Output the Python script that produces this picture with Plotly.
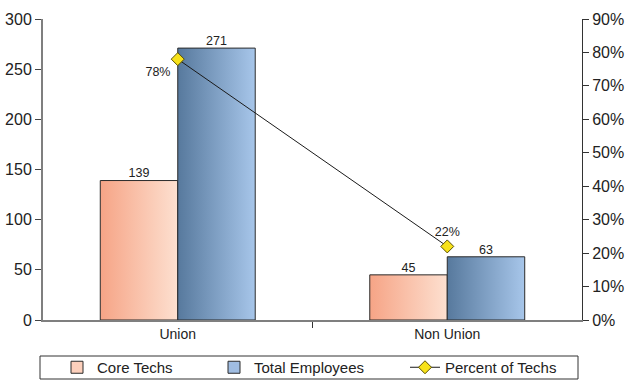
import plotly.graph_objects as go

categories = ["Union", "Non Union"]
core_techs = [139, 45]
total_employees = [271, 63]
percent_techs = [0.78, 0.22]

BAR_W = 0.2875
FONT = "Arial, Liberation Sans, sans-serif"
W, H = 627, 380
M = dict(l=43, r=45, t=19, b=60)

core_scale = [[0, "#f6a486"], [1, "#fde0d0"]]
total_scale = [[0, "#57799d"], [1, "#a7c6ea"]]

fig = go.Figure()

xs = list(range(len(categories)))

# gradient-filled bars drawn as closed polygons in data coordinates
def add_bar(x0, x1, h, scale):
    fig.add_trace(go.Scatter(
        x=[x0, x0, x1, x1, x0], y=[0, h, h, 0, 0],
        mode="lines", fill="toself",
        fillgradient=dict(type="horizontal", colorscale=scale),
        line=dict(color="#2b2b2b", width=1),
        hoverinfo="skip", showlegend=False,
    ))

for i, (c, t) in enumerate(zip(core_techs, total_employees)):
    add_bar(i - BAR_W, i, c, core_scale)
    add_bar(i, i + BAR_W, t, total_scale)

# value labels above bars
fig.add_trace(go.Scatter(
    x=[i - BAR_W / 2 for i in xs], y=core_techs, mode="text",
    text=[str(v) for v in core_techs], textposition="top center",
    textfont=dict(family=FONT, size=12.5, color="#222"),
    showlegend=False, hoverinfo="skip"))
fig.add_trace(go.Scatter(
    x=[i + BAR_W / 2 for i in xs], y=total_employees, mode="text",
    text=[str(v) for v in total_employees], textposition="top center",
    textfont=dict(family=FONT, size=12.5, color="#222"),
    showlegend=False, hoverinfo="skip"))

# legend entries for the bar series
fig.add_trace(go.Bar(x=[None], y=[None], name="Core Techs", legend="legend",
                     marker=dict(color="#fdd0bc", line=dict(color="#2b2b2b", width=1))))
fig.add_trace(go.Bar(x=[None], y=[None], name="Total Employees", legend="legend2",
                     marker=dict(color="#a0bde2", line=dict(color="#2b2b2b", width=1))))

# percentage line on the secondary axis
fig.add_trace(go.Scatter(
    x=xs, y=percent_techs, yaxis="y2", name="Percent of Techs", legend="legend3",
    mode="lines+markers+text",
    text=[f"{round(p*100)}%" for p in percent_techs],
    textposition=["bottom left", "top center"],
    textfont=dict(family=FONT, size=12.5, color="#222"),
    line=dict(color="#1a1a1a", width=1),
    marker=dict(symbol="diamond", size=10, color="#f7e21a",
                line=dict(color="#5a5000", width=1)),
))

def legend_at(px):
    return dict(orientation="h", xref="container", yref="container",
                x=px / W, xanchor="left", y=1 - 367.5 / H, yanchor="middle",
                bgcolor="rgba(0,0,0,0)", borderwidth=0,
                font=dict(family=FONT, size=15, color="#222"))

# frame around the legend row
pw = W - M["l"] - M["r"]
ph = H - M["t"] - M["b"]
def px_x(p):
    return (p - M["l"]) / pw
def px_y(p):
    return (H - M["b"] - p) / ph

fig.add_shape(type="rect", xref="paper", yref="paper",
              x0=px_x(40), x1=px_x(578), y0=px_y(379), y1=px_y(356),
              line=dict(color="#333", width=1), fillcolor="rgba(0,0,0,0)")

fig.update_layout(
    width=W, height=H,
    margin=dict(**M, autoexpand=False),
    paper_bgcolor="white", plot_bgcolor="white",
    font=dict(family=FONT, size=14, color="#222"),
    showlegend=True,
    legend=legend_at(57),
    legend2=legend_at(214),
    legend3=legend_at(405),
    xaxis=dict(range=[-0.5, 1.5], tickmode="array", tickvals=xs, ticktext=categories,
               ticks="", showgrid=False, zeroline=False,
               showline=True, linecolor="#7f7f7f", linewidth=2,
               tickfont=dict(family=FONT, size=14, color="#222"),
               minor=dict(tickmode="array", tickvals=[0.5], ticks="outside",
                          ticklen=6, tickwidth=1, tickcolor="#333", showgrid=False)),
    yaxis=dict(range=[0, 300], tickvals=[0, 50, 100, 150, 200, 250, 300],
               ticks="outside", ticklen=6, tickcolor="#444", tickwidth=1,
               showgrid=False, zeroline=False,
               showline=True, linecolor="#7f7f7f", linewidth=2,
               tickfont=dict(family=FONT, size=16, color="#222")),
    yaxis2=dict(range=[0, 0.9], overlaying="y", side="right",
                tickvals=[0, 0.1, 0.2, 0.3, 0.4, 0.5, 0.6, 0.7, 0.8, 0.9],
                tickformat=".0%", ticks="outside", ticklen=6, tickcolor="#333",
                showgrid=False, zeroline=False,
                showline=True, linecolor="#333", linewidth=1,
                tickfont=dict(family=FONT, size=16, color="#222")),
)

fig.write_html("out.html")
